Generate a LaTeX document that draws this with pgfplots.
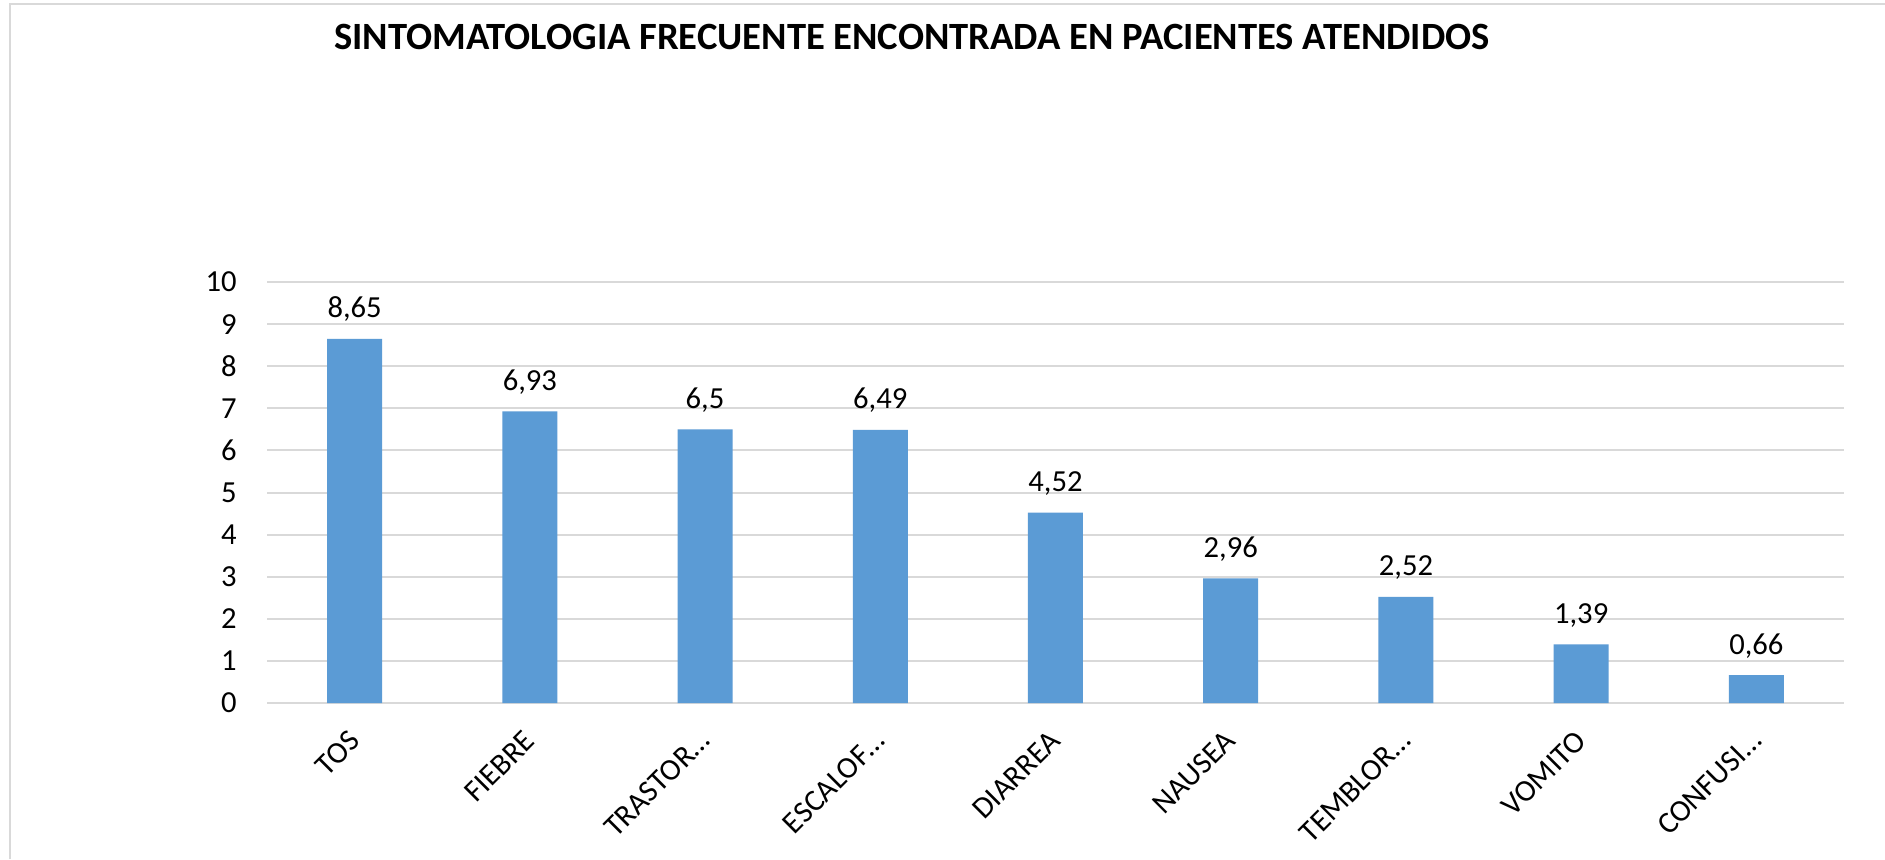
\documentclass[border=0pt]{standalone}
\usepackage{fontspec}
\setmainfont{Carlito}
\usepackage{pgfplots}
\pgfplotsset{compat=1.18}
\usepackage{pgfplotstable}
\definecolor{barblue}{HTML}{5B9BD5}
\definecolor{gridgray}{HTML}{D9D9D9}
\pgfplotstableread{
x y label
0 8.65 8,65
1 6.93 6,93
2 6.50 6,5
3 6.49 6,49
4 4.52 4,52
5 2.96 2,96
6 2.52 2,52
7 1.39 1,39
8 0.66 0,66
}\datatable
\begin{document}
\begin{tikzpicture}
\useasboundingbox (0,0) rectangle (942.5pt,429.5pt);
\fill[white] (0,0) rectangle (942.5pt,429.5pt);
\draw[gridgray, line width=1pt] (5pt,0) -- (5pt,427.5pt) -- (942.5pt,427.5pt);
\node[anchor=base, font=\bfseries\fontsize{19.3}{23}\selectfont, inner sep=0pt] at (456pt,404.5pt) {SINTOMATOLOGIA FRECUENTE ENCONTRADA EN PACIENTES ATENDIDOS};
\begin{axis}[
  at={(133.5pt,78pt)}, anchor=south west,
  scale only axis, width=788.5pt, height=210.5pt,
  xmin=-0.5, xmax=8.5, ymin=0, ymax=10,
  ytick={0,...,10}, xtick={0,...,8},
  xticklabels={TOS,FIEBRE,TRASTOR…,ESCALOF…,DIARREA,NAUSEA,TEMBLOR…,VOMITO,CONFUSI…},
  ymajorgrids, grid style={gridgray, line width=1pt},
  axis line style={draw=none},
  major tick length=0pt,
  tick label style={font=\fontsize{15.3}{18}\selectfont},
  yticklabel style={anchor=east, inner sep=0pt, xshift=-15pt},
  xticklabel style={rotate=45, anchor=east, inner sep=0pt, xshift=-11.6pt, yshift=-11.6pt},
  /pgf/number format/assume math mode=true,
  ybar, bar width=27.5pt,
]
\addplot[fill=barblue, draw=none, nodes near coords, point meta=explicit symbolic,
  nodes near coords style={font=\fontsize{15.3}{18}\selectfont, anchor=base, inner sep=0pt, yshift=10.5pt}]
  table[x=x, y=y, meta=label]{\datatable};
\end{axis}
\end{tikzpicture}
\end{document}
